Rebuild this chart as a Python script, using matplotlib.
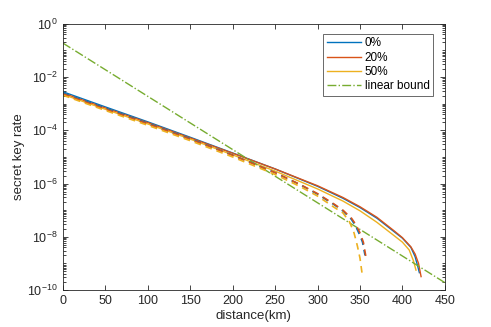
import matplotlib.pyplot as plt
from matplotlib.ticker import LogLocator, NullFormatter

plt.rcParams["font.family"] = ["Liberation Sans", "DejaVu Sans"]

C_BLUE = "#0072BD"
C_RED = "#D95319"
C_YELLOW = "#EDB120"
C_GREEN = "#77AC30"

# solid curves
d_solid_0 = [0, 50, 100, 150, 200, 250, 300, 330, 350, 370, 390, 400, 410, 415, 418, 420]
r_solid_0 = [2.82e-3, 7.6e-4, 2.09e-4, 5.5e-5, 1.41e-5, 3.55e-6, 7.9e-7, 2.8e-7,
             1.26e-7, 5.0e-8, 1.58e-8, 8.9e-9, 4.0e-9, 1.78e-9, 7.9e-10, 4.5e-10]
d_solid_20 = [0, 50, 100, 150, 200, 250, 300, 330, 350, 370, 390, 400, 410, 415, 419, 422]
r_solid_20 = [2.5e-3, 6.9e-4, 1.95e-4, 5.2e-5, 1.38e-5, 3.55e-6, 8.3e-7, 3.0e-7,
              1.35e-7, 5.4e-8, 1.7e-8, 9.3e-9, 4.2e-9, 2.24e-9, 1.0e-9, 3.2e-10]
d_solid_50 = [0, 50, 100, 150, 200, 250, 300, 330, 350, 370, 390, 400, 408, 413, 416]
r_solid_50 = [2.24e-3, 6.2e-4, 1.74e-4, 4.7e-5, 1.2e-5, 2.95e-6, 6.3e-7, 2.2e-7,
              9.5e-8, 3.5e-8, 1.12e-8, 6.3e-9, 3.2e-9, 1.26e-9, 5.6e-10]

# dashed curves
d_dash_0 = [0, 50, 100, 150, 200, 250, 280, 300, 320, 330, 340, 345, 350, 353, 356]
r_dash_0 = [2.5e-3, 6.8e-4, 1.82e-4, 4.8e-5, 1.17e-5, 2.57e-6, 8.9e-7, 4.0e-7,
            1.58e-7, 9.3e-8, 4.5e-8, 2.5e-8, 1.12e-8, 6.3e-9, 2.0e-9]
d_dash_20 = [0, 50, 100, 150, 200, 250, 280, 300, 320, 330, 340, 345, 350, 354, 357]
r_dash_20 = [2.34e-3, 6.3e-4, 1.74e-4, 4.6e-5, 1.15e-5, 2.57e-6, 9.1e-7, 4.2e-7,
             1.66e-7, 1.0e-7, 5.0e-8, 2.95e-8, 1.41e-8, 6.3e-9, 1.78e-9]
d_dash_50 = [0, 50, 100, 150, 200, 250, 280, 300, 320, 330, 338, 343, 347, 350, 353]
r_dash_50 = [2.1e-3, 5.6e-4, 1.55e-4, 4.1e-5, 1.0e-5, 2.2e-6, 7.6e-7, 3.4e-7,
             1.26e-7, 7.9e-8, 3.5e-8, 1.41e-8, 4.5e-9, 1.6e-9, 3.2e-10]

# linear bound
d_bound = [0, 450]
r_bound = [0.19, 1.9e-10]

fig = plt.figure(figsize=(4.91, 3.27), dpi=100)
ax = fig.add_axes([0.128, 0.113, 0.778, 0.814])

ax.plot(d_solid_0, r_solid_0, color=C_BLUE, lw=1.0, label="0%")
ax.plot(d_solid_20, r_solid_20, color=C_RED, lw=1.0, label="20%")
ax.plot(d_solid_50, r_solid_50, color=C_YELLOW, lw=1.0, label="50%")
ax.plot(d_bound, r_bound, color=C_GREEN, lw=1.0, ls="-.", label="linear bound")

dash = (0, (4, 3))
ax.plot(d_dash_0, r_dash_0, color=C_BLUE, lw=1.2, ls=dash)
ax.plot(d_dash_20, r_dash_20, color=C_RED, lw=1.2, ls=dash)
ax.plot(d_dash_50, r_dash_50, color=C_YELLOW, lw=1.2, ls=dash)

ax.set_yscale("log")
ax.set_xlim(0, 450)
ax.set_ylim(1e-10, 1)
ax.set_xticks(range(0, 451, 50))
ax.set_yticks([1e0, 1e-2, 1e-4, 1e-6, 1e-8, 1e-10])
ax.yaxis.set_minor_locator(LogLocator(base=10, subs=range(1, 10), numticks=30))
ax.yaxis.set_minor_formatter(NullFormatter())
ax.tick_params(which="both", direction="in", top=True, right=True,
               labelsize=9, colors="#262626", width=0.6)
ax.tick_params(which="major", length=3.5)
ax.tick_params(which="minor", length=2)
for s in ax.spines.values():
    s.set_color("#262626")
    s.set_linewidth(0.6)

ax.set_xlabel("distance(km)", fontsize=9.5, color="#262626", labelpad=2)
ax.set_ylabel("secret key rate", fontsize=9.5, color="#262626", labelpad=2)

leg = ax.legend(loc="upper right", fontsize=8.5, frameon=True, fancybox=False,
                edgecolor="#262626", borderpad=0.3, labelspacing=0.2,
                handlelength=2.9, handletextpad=0.3, bbox_to_anchor=(0.985, 0.985))
leg.get_frame().set_linewidth(0.6)

fig.savefig("out.png", dpi=100)
